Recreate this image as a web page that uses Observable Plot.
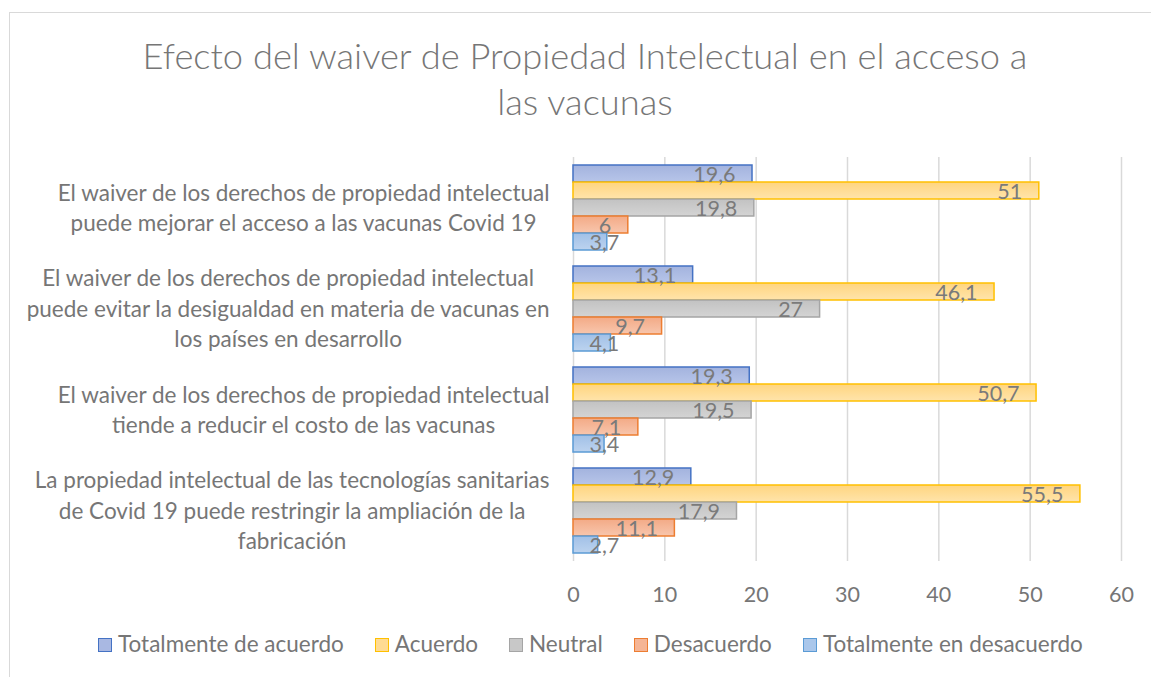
<!DOCTYPE html>
<html><head><meta charset="utf-8">
<script src="https://cdn.jsdelivr.net/npm/d3@7"></script>
<script src="https://cdn.jsdelivr.net/npm/@observablehq/plot@0.6"></script>
<style>
html,body{margin:0;padding:0;background:#fff;overflow:hidden;width:1151px;height:677px;position:relative;}
#frame{position:absolute;left:9px;top:12px;width:1200px;height:720px;border:1px solid #d9d9d9;box-sizing:border-box;}
#title{position:absolute;left:0;top:32px;width:1170px;text-align:center;font-family:Lato,sans-serif;font-weight:300;font-size:36.3px;line-height:46px;color:#767676;}
#chart{position:absolute;left:0;top:140px;}
#legend{position:absolute;left:98px;top:632px;display:flex;font-family:Lato,sans-serif;font-size:22.5px;line-height:24px;color:#767676;white-space:nowrap;}
.item{display:flex;align-items:center;margin-right:31px;}
.sw{width:14px;height:14px;box-sizing:border-box;border:1.5px solid;margin-right:6px;margin-top:2px;}
</style></head><body>
<div id="frame"></div>
<div id="title">Efecto del waiver de Propiedad Intelectual en el acceso a<br>las vacunas</div>
<div id="chart"></div>
<div id="legend"></div>
<script>
const questions = [
  "El waiver de los derechos de propiedad intelectual\npuede mejorar el acceso a las vacunas Covid 19",
  "El waiver de los derechos de propiedad intelectual\npuede evitar la desigualdad en materia de vacunas en\nlos países en desarrollo",
  "El waiver de los derechos de propiedad intelectual\ntiende a reducir el costo de las vacunas",
  "La propiedad intelectual de las tecnologías sanitarias\nde Covid 19 puede restringir la ampliación de la\nfabricación"
];
const series = ["Totalmente de acuerdo", "Acuerdo", "Neutral", "Desacuerdo", "Totalmente en desacuerdo"];
const totalmenteDeAcuerdo = [19.6, 13.1, 19.3, 12.9];
const acuerdo = [51, 46.1, 50.7, 55.5];
const neutral = [19.8, 27, 19.5, 17.9];
const desacuerdo = [6, 9.7, 7.1, 11.1];
const totalmenteEnDesacuerdo = [3.7, 4.1, 3.4, 2.7];
const xTicks = [0, 10, 20, 30, 40, 50, 60];

const seriesValues = [totalmenteDeAcuerdo, acuerdo, neutral, desacuerdo, totalmenteEnDesacuerdo];
const strokes = ["#4472c4", "#ffc000", "#a5a5a5", "#ed7d31", "#5b9bd5"];
const grads = [["#a3b3de", "#b7c5e9"], ["#ffd57f", "#ffe4ab"], ["#c2c2c2", "#d4d4d4"], ["#f3aa86", "#f8c6ad"], ["#a1c0e7", "#bcd3ef"]];
const swatchFill = ["#a9b8e2", "#ffdb93", "#c8c8c8", "#f5b595", "#aac7eb"];
const GRAY = "#767676";
const LABEL = "#7a7a7a";
const fmt = v => String(v).replace(".", ",");

const rows = [];
questions.forEach((q, i) => series.forEach((s, j) => rows.push({q, s, j, v: seriesValues[j][i]})));

const svg = Plot.plot({
  width: 1151, height: 470,
  marginLeft: 573, marginRight: 30, marginTop: 25, marginBottom: 57,
  style: {fontFamily: "Lato, sans-serif", fontSize: "21.5px", color: GRAY, background: "transparent", overflow: "visible"},
  x: {domain: [0, 60], axis: null},
  y: {domain: series, axis: null, padding: 0},
  fy: {domain: questions, axis: null, paddingInner: 16 / 101, paddingOuter: 0},
  marks: [
    Plot.ruleX(xTicks, {stroke: "#d9d9d9", strokeWidth: 1.5, insetTop: -8, insetBottom: -8}),
    ...series.map((s, j) => Plot.barX(rows.filter(r => r.j === j), {
      x: "v", y: "s", fy: "q", fill: `url(#g${j})`, stroke: strokes[j], strokeWidth: 1.5
    })),
    Plot.text(rows.filter(r => r.v >= 5), {x: "v", y: "s", fy: "q", text: r => fmt(r.v), textAnchor: "end", dx: -17, dy: 1.5, fill: LABEL}),
    Plot.text(rows.filter(r => r.v < 5), {x: 0, y: "s", fy: "q", text: r => fmt(r.v), textAnchor: "start", dx: 16, dy: 1.5, fill: LABEL}),
    Plot.text(questions, {fy: d => d, text: d => d, frameAnchor: "left", textAnchor: "middle", lineHeight: 1.35, dy: -2, fontSize: 22.5, fill: GRAY}),
    Plot.axisX({ticks: xTicks, tickSize: 0, tickPadding: 33, tickFormat: d => String(d), label: null, fill: GRAY})
  ]
});

const defs = d3.select(svg).insert("defs", ":first-child");
grads.forEach(([a, b], j) => {
  const g = defs.append("linearGradient").attr("id", "g" + j).attr("x1", 0).attr("y1", 0).attr("x2", 0).attr("y2", 1);
  g.append("stop").attr("offset", "0%").attr("stop-color", a);
  g.append("stop").attr("offset", "100%").attr("stop-color", b);
});

document.getElementById("chart").appendChild(svg);

// align each category label block's right edge 24px left of the axis, lines centered within
const flat = questions.map(q => q.replace(/\n/g, ""));
svg.querySelectorAll("text").forEach(t => {
  if (flat.includes(t.textContent)) {
    const w = t.getBBox().width;
    const shift = (573 - 24 - w / 2) - 573;
    t.setAttribute("transform", (t.getAttribute("transform") || "") + ` translate(${shift},0)`);
  }
});

const legend = document.getElementById("legend");
series.forEach((s, j) => {
  const it = document.createElement("div");
  it.className = "item";
  const sw = document.createElement("div");
  sw.className = "sw";
  sw.style.borderColor = strokes[j];
  sw.style.background = swatchFill[j];
  const tx = document.createElement("span");
  tx.textContent = s;
  it.appendChild(sw); it.appendChild(tx);
  legend.appendChild(it);
});
</script>
</body></html>
